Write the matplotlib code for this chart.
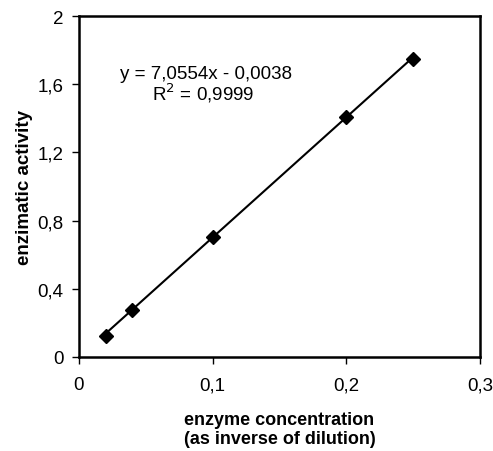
import matplotlib
matplotlib.use("Agg")
import matplotlib.pyplot as plt
import numpy as np
from matplotlib.ticker import FuncFormatter

plt.rcParams['font.family'] = ['Liberation Sans', 'DejaVu Sans']

conc = [0.02, 0.04, 0.1, 0.2, 0.25]
activity = [0.125, 0.276, 0.704, 1.408, 1.748]
slope = 7.0554
intercept = -0.0038
eq_text = "y = 7,0554x - 0,0038"
r2_text = "R$^2$ = 0,9999"
x_ticks = [0, 0.1, 0.2, 0.3]
y_ticks = [0, 0.4, 0.8, 1.2, 1.6, 2.0]

fig = plt.figure(figsize=(4.93, 4.52), dpi=100)
ax = fig.add_axes([0.160, 0.208, 0.814, 0.754])

xf = np.array([conc[0], conc[-1]])
ax.plot(xf, slope * xf + intercept, color='black', lw=1.5, zorder=2)
ax.plot(conc, activity, linestyle='none', marker='D', markersize=7.5,
        color='black', zorder=3)

ax.set_xlim(0, 0.3)
ax.set_ylim(0, 2)
ax.set_xticks(x_ticks)
ax.set_yticks(y_ticks)

def fmt(v, pos):
    s = ('%g' % round(v, 3)).replace('.', ',')
    return s
ax.xaxis.set_major_formatter(FuncFormatter(fmt))
ax.yaxis.set_major_formatter(FuncFormatter(fmt))

for sp in ax.spines.values():
    sp.set_linewidth(1.8)
ax.tick_params(axis='both', direction='out', length=5, width=1, labelsize=13.5)
ax.tick_params(axis='x', pad=9)
ax.tick_params(axis='y', pad=6)

ax.set_xlabel("enzyme concentration\n(as inverse of dilution)", fontsize=13,
              fontweight='bold', labelpad=13, linespacing=1.15)
ax.set_ylabel("enzimatic activity", fontsize=13.5, fontweight='bold', labelpad=3)

ax.text(0.318, 0.833, eq_text, transform=ax.transAxes, ha='center', va='center', fontsize=13.5)
ax.text(0.31, 0.777, r2_text, transform=ax.transAxes, ha='center', va='center', fontsize=13.5)

fig.savefig("out.png", dpi=100)
